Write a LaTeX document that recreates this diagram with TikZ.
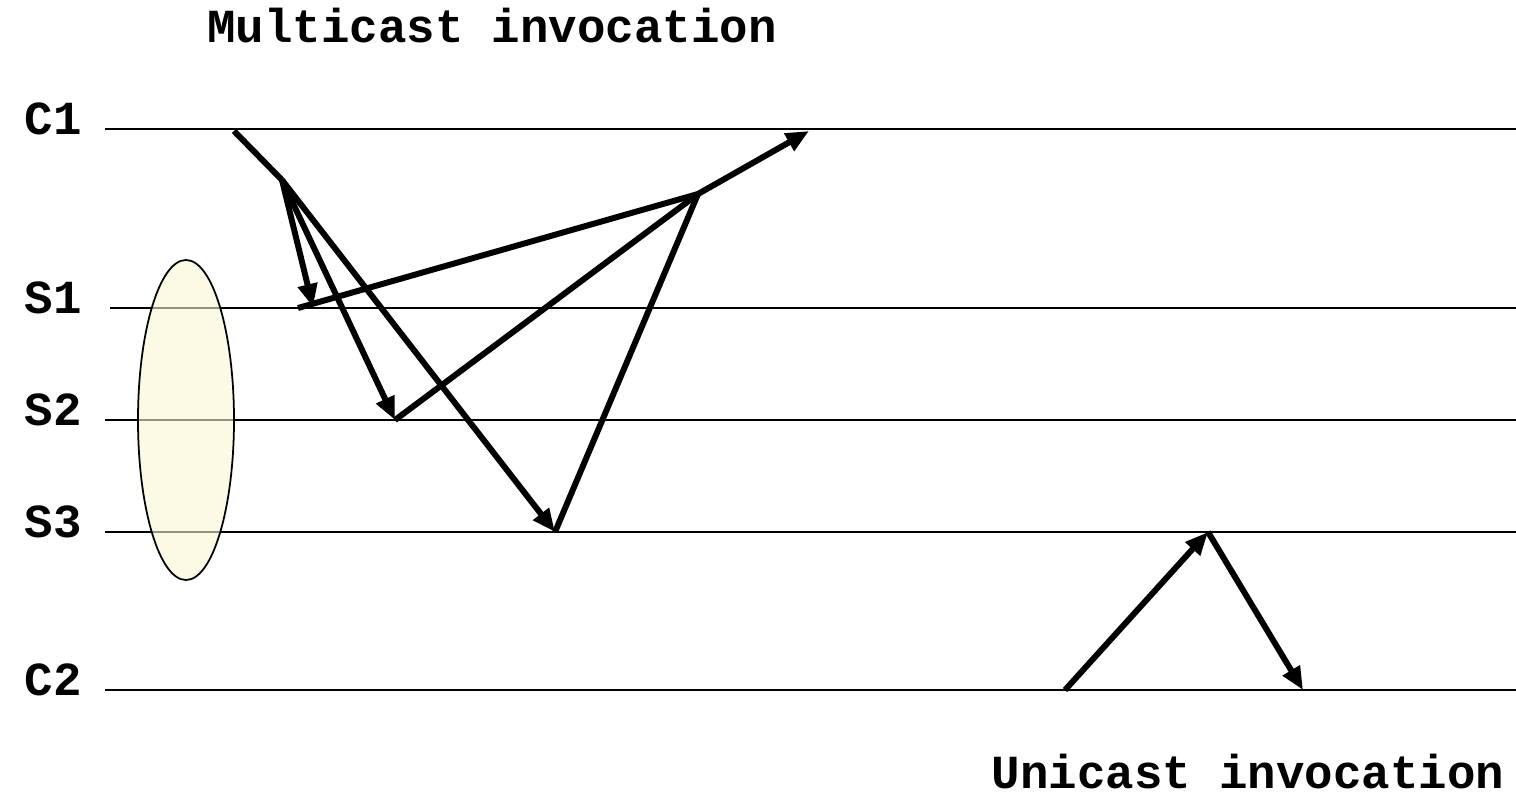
\documentclass[tikz,border=0pt]{standalone}
\usepackage{fontspec}
\setmonofont{Liberation Mono}
\usepackage{tikz}
\usetikzlibrary{arrows.meta,shapes.geometric,calc}
\definecolor{groupe}{RGB}{246,246,212}

\tikzset{
  axe/.style={line width=1.1pt},
  msg/.style={line width=3.4pt,-{Triangle[length=0.46cm,width=0.38cm]}},
  trait/.style={line width=3.4pt},
  lbl/.style={font=\fontsize{27}{32}\selectfont\ttfamily\bfseries,inner sep=0pt}
}

\begin{document}
\begin{tikzpicture}
  \useasboundingbox (0,0) rectangle (30.32,15.98);
  % process lines
  \foreach \nom/\y/\x in {C1/13.40/2.1,S1/9.82/2.2,S2/7.58/2.1,S3/5.34/2.1,C2/2.18/2.1}{
    \node[lbl,anchor=east] (l\nom) at (1.64,\y+0.2) {\nom};
    \coordinate (d\nom) at (\x,\y);
    \coordinate (f\nom) at (30.32,\y);
    \draw[axe] (d\nom) -- (f\nom);
  }
  % server group
  \node[draw=black,line width=1pt,fill=groupe,fill opacity=0.6,ellipse,
        minimum width=1.92cm,minimum height=6.4cm,inner sep=0pt] (grp) at (3.72,7.58) {};
  \node[lbl] (titreM) at (9.84,15.46) {Multicast invocation};
  \node[lbl] (titreU) at (24.96,0.54) {Unicast invocation};
  % multicast
  \coordinate (a0) at (4.68,13.36);
  \coordinate (a1) at (5.64,12.38);
  \coordinate (r1) at (6.26,9.84);
  \coordinate (r2) at (7.90,7.58);
  \coordinate (r3) at (11.10,5.34);
  \coordinate (o1) at (5.96,9.82);
  \coordinate (v)  at (13.96,12.10);
  \coordinate (fin) at (16.18,13.36);
  \draw[trait] (a0) -- (a1);
  \draw[msg] (a1) -- (r1);
  \draw[msg] (a1) -- (r2);
  \draw[msg] (a1) -- (r3);
  \draw[trait] (o1) -- (v);
  \draw[trait] (r2) -- (v);
  \draw[trait] (r3) -- (v);
  \draw[msg] (v) -- (fin);
  % unicast
  \coordinate (u0) at (21.30,2.18);
  \coordinate (u1) at (24.16,5.34);
  \coordinate (u2) at (26.06,2.18);
  \draw[msg] (u0) -- (u1);
  \draw[msg] (u1) -- (u2);
\end{tikzpicture}
\end{document}
